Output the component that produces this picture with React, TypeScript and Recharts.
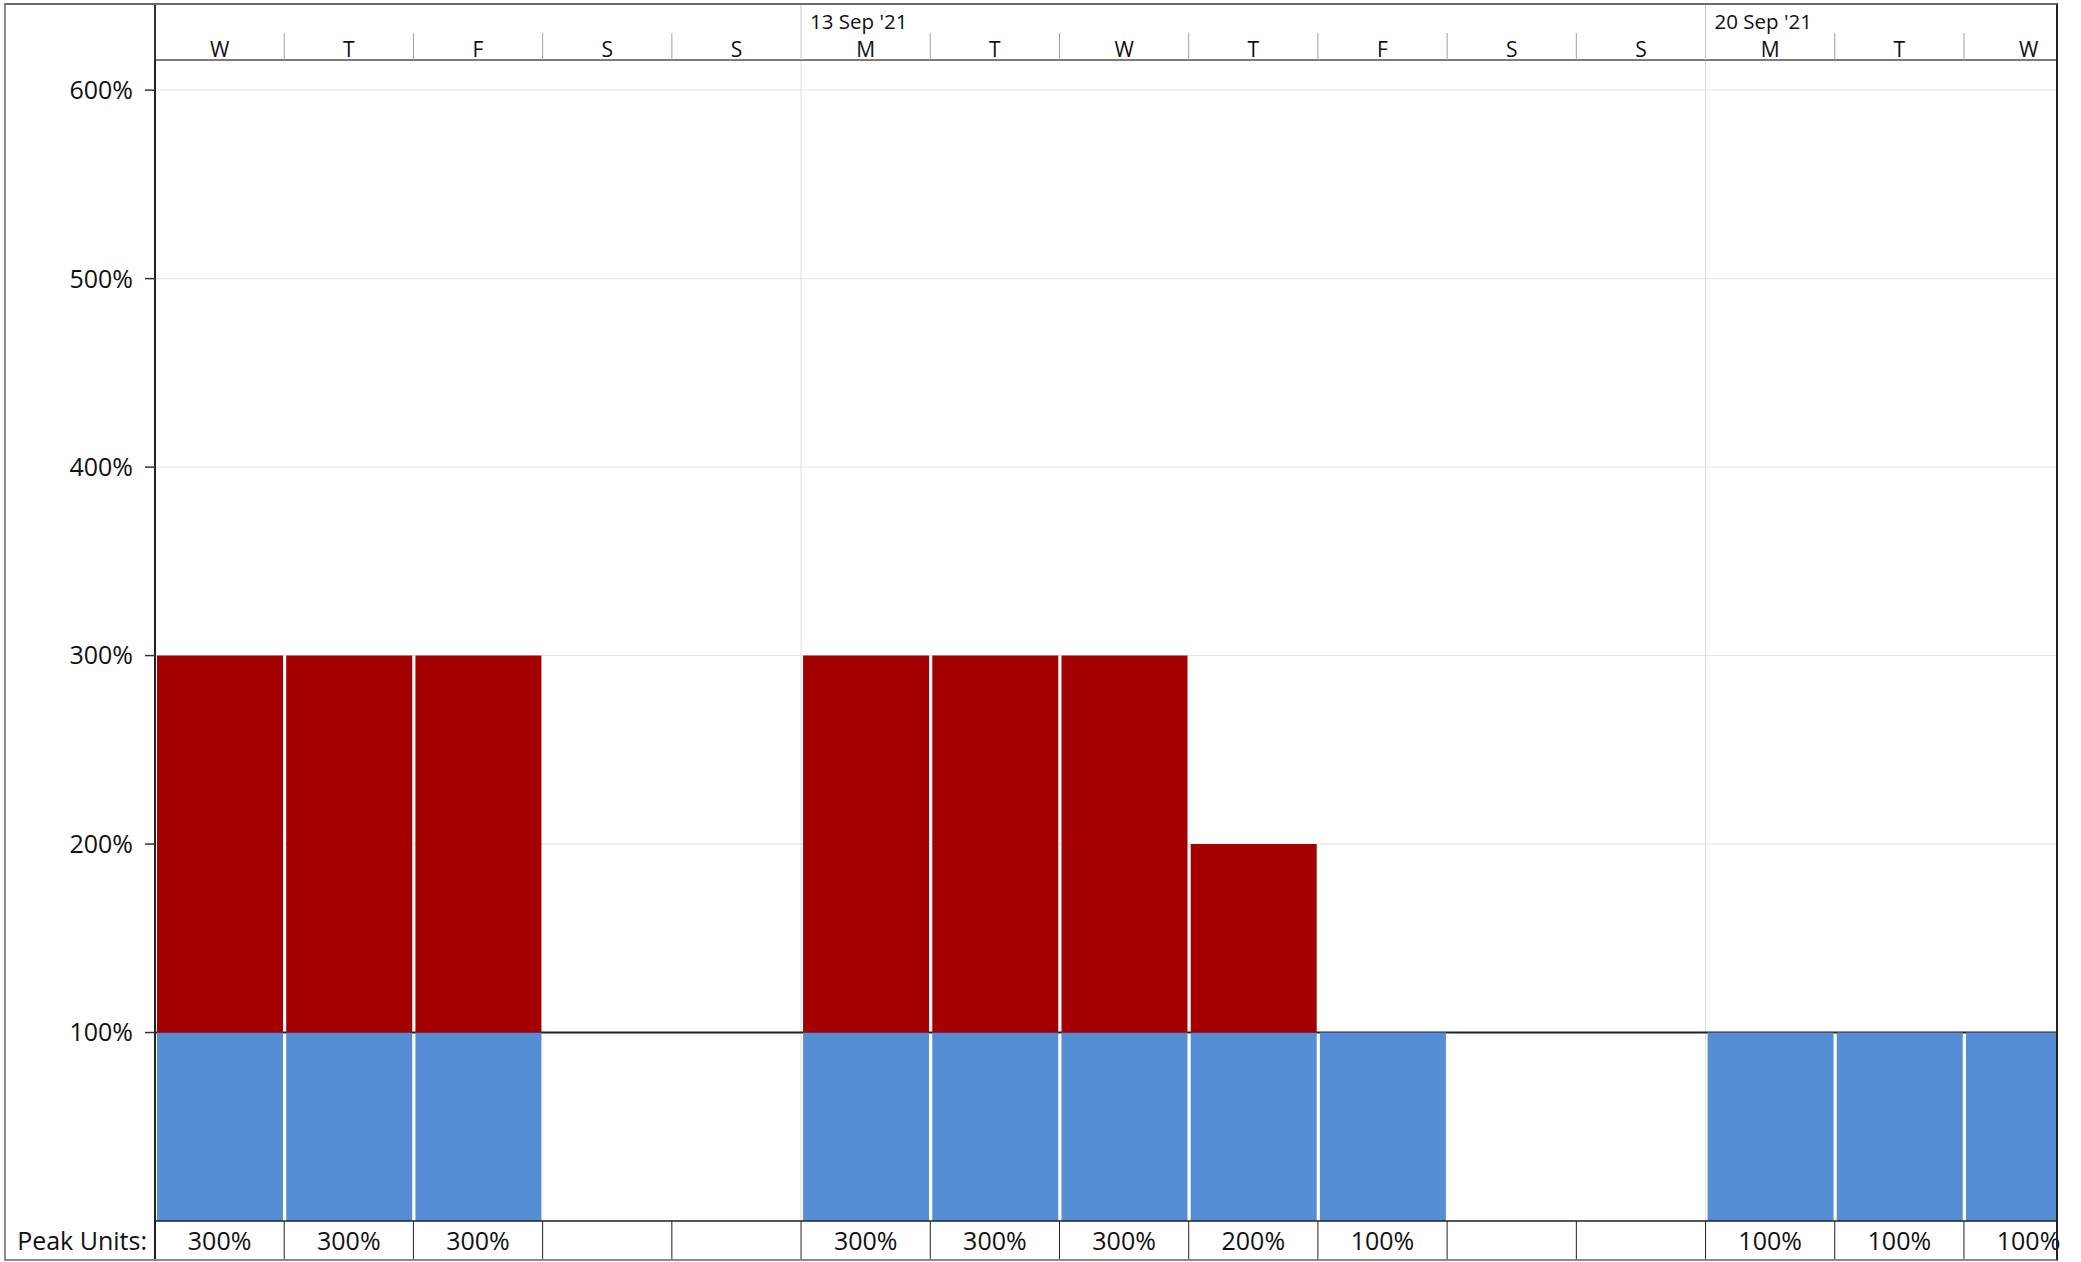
import React from 'react';
import { ComposedChart, Bar, XAxis, YAxis, CartesianGrid, ReferenceLine } from 'recharts';

// Timescale: one letter per working day, starting Wed 8 Sep 2021
const dayLetters = ['W', 'T', 'F', 'S', 'S', 'M', 'T', 'W', 'T', 'F', 'S', 'S', 'M', 'T', 'W'];
const weekStartDays = [5, 12];
const weekLabels = ["13 Sep '21", "20 Sep '21"];

// Resource units per day (percent)
const allocatedUnits = [100, 100, 100, 0, 0, 100, 100, 100, 100, 100, 0, 0, 100, 100, 100];
const overallocatedUnits = [200, 200, 200, 0, 0, 200, 200, 200, 100, 0, 0, 0, 0, 0, 0];
const maxUnits = 100;
const unitTicks = [100, 200, 300, 400, 500, 600];

const VISIBLE_DAYS = 14.72;
const UNIT_MAX = 616;

const FONT = '"Open Sans", "Noto Sans", sans-serif';
const W = 2081;
const H = 1262;
const MARGIN = { top: 4, right: 24, bottom: 2, left: 5 };
const Y_W = 150;
const HEAD_H = 56;
const TABLE_H = 39;
const PLOT_W = W - MARGIN.left - MARGIN.right - Y_W;
const COL_W = PLOT_W / VISIBLE_DAYS;

const rows = dayLetters.map((d, i) => ({
  x: i + 0.5,
  day: d,
  allocated: allocatedUnits[i],
  overallocated: overallocatedUnits[i],
}));
const peakUnits = dayLetters.map((_, i) => allocatedUnits[i] + overallocatedUnits[i]);
const dayBoundaries = dayLetters.map((_, i) => i);

function HeaderTick(props: any) {
  const { x, y, payload } = props;
  const i = Math.round(payload.value);
  const w = weekStartDays.indexOf(i);
  const edge = i === 0;
  const full = edge || w >= 0;
  return (
    <g>
      <line
        x1={x}
        x2={x}
        y1={y}
        y2={full ? y - HEAD_H : y - 27}
        stroke={edge ? '#333' : full ? '#c4c4c4' : '#a0a0a0'}
        strokeWidth={edge ? 2 : 1}
      />
      {w >= 0 && (
        <text x={x + 9} y={y - 31} fontSize={20.5} fontFamily={FONT} fill="#111">
          {weekLabels[w]}
        </text>
      )}
      <text x={x + COL_W / 2} y={y - 3} fontSize={21} fontFamily={FONT} fill="#111" textAnchor="middle">
        {dayLetters[i]}
      </text>
    </g>
  );
}

function PeakTick(props: any) {
  const { x, y, payload } = props;
  const i = Math.round(payload.value);
  const v = peakUnits[i];
  return (
    <g>
      <line x1={x} x2={x} y1={y} y2={y + TABLE_H} stroke="#222" strokeWidth={i === 0 ? 2 : 1} />
      {i === 0 && (
        <text x={x - 8} y={y + 29} fontSize={25} fontFamily={FONT} fill="#111" textAnchor="end">
          Peak Units:
        </text>
      )}
      {v > 0 && (
        <text x={x + COL_W / 2} y={y + 29} fontSize={25} fontFamily={FONT} fill="#111" textAnchor="middle">
          {`${v}%`}
        </text>
      )}
    </g>
  );
}

export default function App() {
  return (
    <div style={{ position: 'absolute', left: 0, top: 0, width: W, height: H, background: '#fff' }}>
      <ComposedChart width={W} height={H} data={rows} margin={MARGIN} style={{ fontFamily: FONT }}>
        <CartesianGrid xAxisId="day" horizontal vertical={false} stroke="#e2e2e2" />
        <XAxis
          xAxisId="day"
          orientation="top"
          type="number"
          dataKey="x"
          domain={[0, VISIBLE_DAYS]}
          allowDataOverflow
          ticks={dayBoundaries}
          interval={0}
          height={HEAD_H}
          tickSize={0}
          tickMargin={0}
          tickLine={false}
          axisLine={{ stroke: '#555', strokeWidth: 1.5 }}
          tick={<HeaderTick />}
        />
        <XAxis
          xAxisId="peak"
          orientation="bottom"
          type="number"
          dataKey="x"
          domain={[0, VISIBLE_DAYS]}
          allowDataOverflow
          ticks={dayBoundaries}
          interval={0}
          height={TABLE_H}
          tickSize={0}
          tickMargin={0}
          tickLine={false}
          axisLine={{ stroke: '#222', strokeWidth: 1.5 }}
          tick={<PeakTick />}
        />
        <YAxis
          type="number"
          domain={[0, UNIT_MAX]}
          ticks={unitTicks}
          interval={0}
          width={Y_W}
          tickSize={10}
          tickMargin={12}
          stroke="#333"
          axisLine={{ stroke: '#222', strokeWidth: 2 }}
          tickLine={{ stroke: '#333', strokeWidth: 1.5 }}
          tick={{ fill: '#111', fontSize: 25, fontFamily: FONT }}
          tickFormatter={(v: number) => `${v}%`}
        />
        {weekStartDays.map((d) => (
          <ReferenceLine key={d} xAxisId="day" x={d} stroke="#dcdcdc" strokeWidth={1} zIndex={-50} />
        ))}
        {/* max available units line sits underneath the bars */}
        <ReferenceLine xAxisId="day" y={maxUnits} stroke="#222" strokeWidth={2} zIndex={250} />
        <Bar
          xAxisId="day"
          dataKey="allocated"
          stackId="units"
          fill="#558ED5"
          barSize={126}
          isAnimationActive={false}
        />
        <Bar
          xAxisId="day"
          dataKey="overallocated"
          stackId="units"
          fill="#A50000"
          barSize={126}
          isAnimationActive={false}
        />
      </ComposedChart>
      <div
        style={{
          position: 'absolute',
          left: 4,
          top: 3,
          width: 2054,
          height: 1258,
          boxSizing: 'border-box',
          borderTop: '2px solid #6a6a6a',
          borderLeft: '2px solid #8a8a8a',
          borderBottom: '2px solid #8a8a8a',
          borderRight: '2px solid #222',
          pointerEvents: 'none',
        }}
      />
    </div>
  );
}
